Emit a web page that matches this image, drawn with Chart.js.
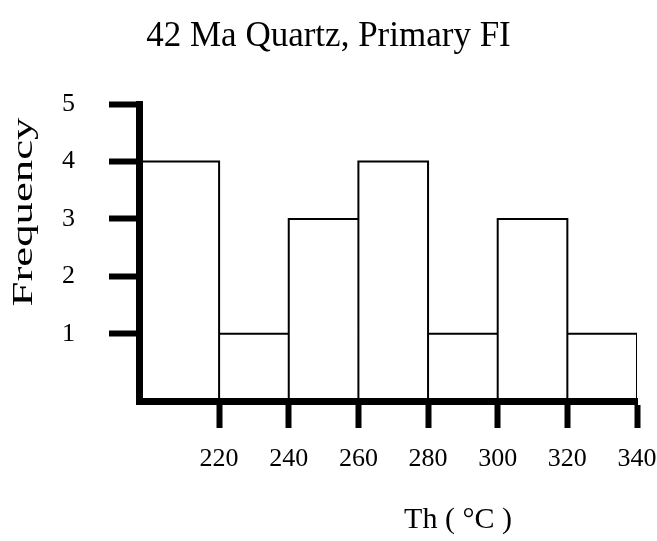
<!DOCTYPE html>
<html>
<head>
<meta charset="utf-8">
<script src="https://cdn.jsdelivr.net/npm/chart.js@4"></script>
<style>
  html, body { margin: 0; padding: 0; background: #fff; }
  canvas { display: block; }
</style>
</head>
<body>
<canvas id="myChart" width="657" height="541"></canvas>
<script>
// histogram bins (bin edges as drawn, first bin starts at the axis)
var binEdges = [197, 220, 240, 260, 280, 300, 320, 340];
var counts = [4, 1, 3, 4, 1, 3, 1];
var xTickLabels = [220, 240, 260, 280, 300, 320, 340];
var yTickLabels = [1, 2, 3, 4, 5];

var titleText = "42 Ma Quartz, Primary FI";
var xTitle = "Th ( \u00B0C )";
var yTitle = "Frequency";

var Y_MIN = -0.17; // bars go down to the thick x axis
var SERIF = "'Liberation Serif', 'Times New Roman', serif";

// outline of every bar as a closed step path
var outline = [];
counts.forEach(function (c, i) {
  var lo = binEdges[i], hi = binEdges[i + 1];
  outline.push({ x: lo, y: Y_MIN }, { x: lo, y: c }, { x: hi, y: c }, { x: hi, y: Y_MIN });
});

// axis titles, drawn off-centre like the original
var axisTitles = {
  id: "axisTitles",
  afterDraw: function (chart) {
    var c = chart.ctx;
    c.save();
    c.fillStyle = "#000";
    c.textAlign = "center";
    c.textBaseline = "middle";
    c.font = "30px " + SERIF;
    c.fillText(xTitle, 458, 520);
    c.translate(24, 212);
    c.rotate(-Math.PI / 2);
    c.font = "30px " + SERIF;
    var w = c.measureText(yTitle).width;
    c.scale(189 / w, 1);
    c.fillText(yTitle, 0, 0);
    c.restore();
  },
};

new Chart(document.getElementById("myChart"), {
  type: "line",
  data: {
    datasets: [
      {
        data: outline,
        borderColor: "#000",
        borderWidth: 2,
        pointRadius: 0,
        tension: 0,
        fill: false,
      },
    ],
  },
  options: {
    responsive: false,
    animation: false,
    devicePixelRatio: 1,
    layout: { padding: { left: 0, right: 0, top: 0, bottom: 0 } },
    plugins: {
      legend: { display: false },
      tooltip: { enabled: false },
      title: {
        display: true,
        text: titleText,
        color: "#000",
        font: { family: SERIF, size: 35, weight: "normal", lineHeight: 1.2 },
        padding: { top: 16, bottom: 46 },
      },
    },
    scales: {
      x: {
        type: "linear",
        min: binEdges[0],
        max: binEdges[binEdges.length - 1],
        afterBuildTicks: function (scale) {
          scale.ticks = xTickLabels.map(function (v) { return { value: v }; });
        },
        afterFit: function (scale) {
          scale.height = 140;
          scale.paddingRight = 20;
        },
        border: { display: true, color: "#000", width: 7 },
        grid: {
          drawOnChartArea: false,
          drawTicks: true,
          tickLength: 27,
          tickWidth: 6,
          tickColor: "#000",
          color: "#000",
        },
        ticks: {
          color: "#000",
          padding: 16,
          maxRotation: 0,
          autoSkip: false,
          font: { family: SERIF, size: 26 },
        },
      },
      y: {
        min: Y_MIN,
        max: 5,
        afterBuildTicks: function (scale) {
          scale.ticks = yTickLabels.map(function (v) { return { value: v }; });
        },
        afterFit: function (scale) { scale.width = 139; },
        border: { display: true, color: "#000", width: 7 },
        grid: {
          drawOnChartArea: false,
          drawTicks: true,
          tickLength: 30,
          tickWidth: 6,
          tickColor: "#000",
          color: "#000",
        },
        ticks: {
          color: "#000",
          padding: 34,
          font: { family: SERIF, size: 26 },
        },
      },
    },
  },
  plugins: [axisTitles],
});
</script>
</body>
</html>
